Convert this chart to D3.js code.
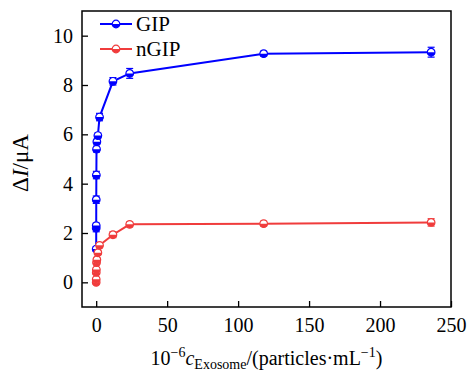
<!DOCTYPE html>
<html>
<head>
    <meta charset="utf-8">
    <script src="https://cdnjs.cloudflare.com/ajax/libs/d3/7.8.5/d3.min.js"></script>
    <style>
        body { margin: 0; background: #fff; }
        svg text { font-family: "Liberation Serif", "Times New Roman", serif; fill: #000; }
    </style>
</head>
<body>
<div id="chart"></div>
<script>
    // concentrations (10^6 particles/mL) and responses
    const gipX = [0, 0.0118, 0.0236, 0.0472, 0.118, 0.236, 0.472, 1.18, 2.36, 11.8, 23.6, 118, 236];
    const gipY = [1.35, 2.2, 2.3, 3.35, 4.35, 5.4, 5.7, 5.95, 6.7, 8.15, 8.47, 9.27, 9.33];
    const gipErr = [0.1, 0.15, 0.1, 0.15, 0.15, 0.12, 0.1, 0.1, 0.15, 0.15, 0.2, 0.1, 0.2];

    const ngipX = [0, 0.0236, 0.0472, 0.118, 0.236, 0.472, 1.18, 2.36, 11.8, 23.6, 118, 236];
    const ngipY = [0.0, 0.12, 0.4, 0.52, 0.8, 0.92, 1.2, 1.5, 1.93, 2.35, 2.38, 2.43];
    const ngipErr = [0.08, 0.08, 0.08, 0.08, 0.08, 0.08, 0.08, 0.1, 0.12, 0.1, 0.1, 0.15];

    const xTicks = [0, 50, 100, 150, 200, 250];
    const yTicks = [0, 2, 4, 6, 8, 10];

    const series = [
        { name: "GIP", color: "#0000ff", x: gipX, y: gipY, e: gipErr },
        { name: "nGIP", color: "#f03c3c", x: ngipX, y: ngipY, e: ngipErr }
    ];

    var width = 468, height = 374;
    var margin = { top: 11, right: 17, bottom: 67, left: 82 };

    var svg = d3.select("#chart").append("svg")
        .attr("width", width)
        .attr("height", height);

    var x = d3.scaleLinear().domain([-10, 250]).range([margin.left, width - margin.right]);
    var y = d3.scaleLinear().domain([-1, 11]).range([height - margin.bottom, margin.top]);

    // axes, ticks pointing inward
    svg.append("g")
        .attr("transform", "translate(0," + (height - margin.bottom) + ")")
        .call(d3.axisBottom(x).tickValues(xTicks).tickSize(-6).tickPadding(11))
        .call(g => g.select(".domain").remove())
        .attr("font-family", null)
        .attr("font-size", null);

    svg.append("g")
        .attr("transform", "translate(" + margin.left + ",0)")
        .call(d3.axisLeft(y).tickValues(yTicks).tickSize(-6).tickPadding(9))
        .call(g => g.select(".domain").remove())
        .attr("font-family", null)
        .attr("font-size", null);

    svg.selectAll(".tick line").attr("stroke", "#000").attr("stroke-width", 1.3);
    svg.selectAll(".tick text")
        .attr("fill", "#000")
        .style("font-family", "'Liberation Serif', serif")
        .style("font-size", "20px");

    // frame
    svg.append("rect")
        .attr("x", margin.left)
        .attr("y", margin.top)
        .attr("width", width - margin.left - margin.right)
        .attr("height", height - margin.top - margin.bottom)
        .attr("fill", "none")
        .attr("stroke", "#000")
        .attr("stroke-width", 1.5);

    var r = 3.8;
    function marker(g, color) {
        g.append("circle").attr("r", r).attr("fill", "#fff").attr("stroke", color).attr("stroke-width", 1.2);
        g.append("path")
            .attr("d", "M" + (-r) + ",0A" + r + "," + r + " 0 0 0 " + r + ",0Z")
            .attr("fill", color);
    }

    var line = d3.line().x(d => x(d[0])).y(d => y(d[1]));

    series.forEach(s => {
        var pts = s.x.map((v, i) => [v, s.y[i], s.e[i]]);
        var g = svg.append("g");

        g.append("path")
            .datum(pts)
            .attr("d", line)
            .attr("fill", "none")
            .attr("stroke", s.color)
            .attr("stroke-width", 2);

        // error bars
        var eb = g.selectAll(".err").data(pts).enter().append("g")
            .attr("stroke", s.color)
            .attr("stroke-width", 1.2);
        eb.append("line")
            .attr("x1", d => x(d[0])).attr("x2", d => x(d[0]))
            .attr("y1", d => y(d[1] - d[2])).attr("y2", d => y(d[1] + d[2]));
        eb.append("line")
            .attr("x1", d => x(d[0]) - 3.5).attr("x2", d => x(d[0]) + 3.5)
            .attr("y1", d => y(d[1] + d[2])).attr("y2", d => y(d[1] + d[2]));
        eb.append("line")
            .attr("x1", d => x(d[0]) - 3.5).attr("x2", d => x(d[0]) + 3.5)
            .attr("y1", d => y(d[1] - d[2])).attr("y2", d => y(d[1] - d[2]));

        g.selectAll(".mk").data(pts).enter().append("g")
            .attr("transform", d => "translate(" + x(d[0]) + "," + y(d[1]) + ")")
            .each(function () { marker(d3.select(this), s.color); });
    });

    // legend
    series.forEach((s, i) => {
        var ly = 24 + i * 25;
        var lg = svg.append("g");
        lg.append("line")
            .attr("x1", 100).attr("x2", 132)
            .attr("y1", ly).attr("y2", ly)
            .attr("stroke", s.color).attr("stroke-width", 2);
        var m = lg.append("g").attr("transform", "translate(116," + ly + ")");
        marker(m, s.color);
        lg.append("text")
            .attr("x", 136).attr("y", ly + 7)
            .style("font-size", "21px")
            .text(s.name);
    });

    // axis titles
    var xt = svg.append("text")
        .attr("x", (margin.left + width - margin.right) / 2)
        .attr("y", 365)
        .attr("text-anchor", "middle")
        .style("font-size", "20px");
    xt.append("tspan").text("10");
    xt.append("tspan").attr("dy", -8).style("font-size", "14px").text("\u22126");
    xt.append("tspan").attr("dy", 8).style("font-style", "italic").text("c");
    xt.append("tspan").attr("dy", 4).style("font-size", "14px").text("Exosome");
    xt.append("tspan").attr("dy", -4).text("/(particles\u00b7mL");
    xt.append("tspan").attr("dy", -8).style("font-size", "14px").text("\u22121");
    xt.append("tspan").attr("dy", 8).text(")");

    var yt = svg.append("text")
        .attr("transform", "translate(28," + 163 + ") rotate(-90)")
        .attr("text-anchor", "middle")
        .style("font-size", "23px");
    yt.append("tspan").text("\u0394");
    yt.append("tspan").style("font-style", "italic").text("I");
    yt.append("tspan").text("/\u03bcA");
</script>
</body>
</html>
